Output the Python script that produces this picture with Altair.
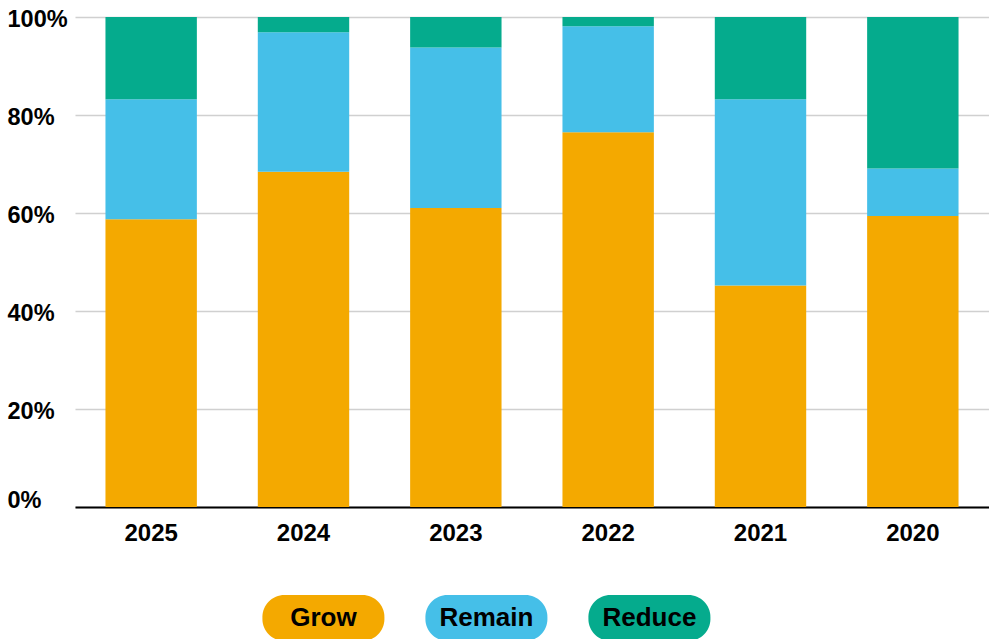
import altair as alt
import pandas as pd

years = ["2025", "2024", "2023", "2022", "2021", "2020"]
categories = ["Grow", "Remain", "Reduce"]
colors = ["#F4A900", "#45BFE8", "#05AB8D"]
grow = [58.7, 68.4, 61.0, 76.5, 45.2, 59.4]
remain = [24.5, 28.5, 32.8, 21.6, 38.0, 9.7]
reduce_ = [16.8, 3.1, 6.2, 1.9, 16.8, 30.9]
y_ticks = [0, 20, 40, 60, 80, 100]

rows = []
for i, yr in enumerate(years):
    for k, (cat, vals) in enumerate(zip(categories, [grow, remain, reduce_])):
        rows.append({"year": yr, "category": cat, "value": vals[i], "rank": k})
df = pd.DataFrame(rows)
leg_df = pd.DataFrame({"category": categories})

FONT = "Liberation Sans"
color_scale = alt.Scale(domain=categories, range=colors)

main = alt.Chart(df).mark_bar().encode(
    x=alt.X(
        "year:N", sort=years, title=None,
        scale=alt.Scale(paddingInner=0.4, paddingOuter=0.2),
        axis=alt.Axis(labelAngle=0, ticks=False, tickSize=0, grid=False,
                      domain=True, domainColor="#000000", domainWidth=2,
                      labelPadding=14, labelFontSize=24, labelFont=FONT,
                      labelFontWeight="bold", labelColor="#000000"),
    ),
    y=alt.Y(
        "value:Q", stack="zero", title=None,
        scale=alt.Scale(domain=[0, 100], nice=False),
        axis=alt.Axis(values=y_ticks, labelExpr="datum.value + '%'",
                      domain=False, ticks=False, tickSize=0, grid=True,
                      gridColor="#d0d0d0", gridWidth=1.5,
                      labelAlign="left", labelPadding=68,
                      labelOffset={"expr": "datum.value == 0 ? -7 : 2"},
                      labelFontSize=23.5, labelFont=FONT, labelFontWeight="bold",
                      labelColor="#000000"),
    ),
    color=alt.Color("category:N", scale=color_scale, legend=None),
    order=alt.Order("rank:Q", sort="ascending"),
).properties(width=914, height=490)

leg_x = alt.X("category:N", sort=categories, axis=None,
              scale=alt.Scale(type="point", padding=1, align=0.762))
pills = alt.Chart(leg_df).mark_bar(cornerRadius=22, width=122).encode(
    x=leg_x,
    color=alt.Color("category:N", scale=color_scale, legend=None),
)
labels = alt.Chart(leg_df).mark_text(
    font=FONT, fontSize=26, fontWeight="bold", color="#000000"
).encode(x=leg_x, text="category:N")
legend = (pills + labels).properties(width=652, height=46)

chart = alt.vconcat(main, legend, spacing=50).properties(
    padding={"left": 7, "top": 7, "right": 0, "bottom": 0}
).configure_view(stroke=None)

chart.save("out.html", embed_options={"renderer": "svg", "actions": False})
